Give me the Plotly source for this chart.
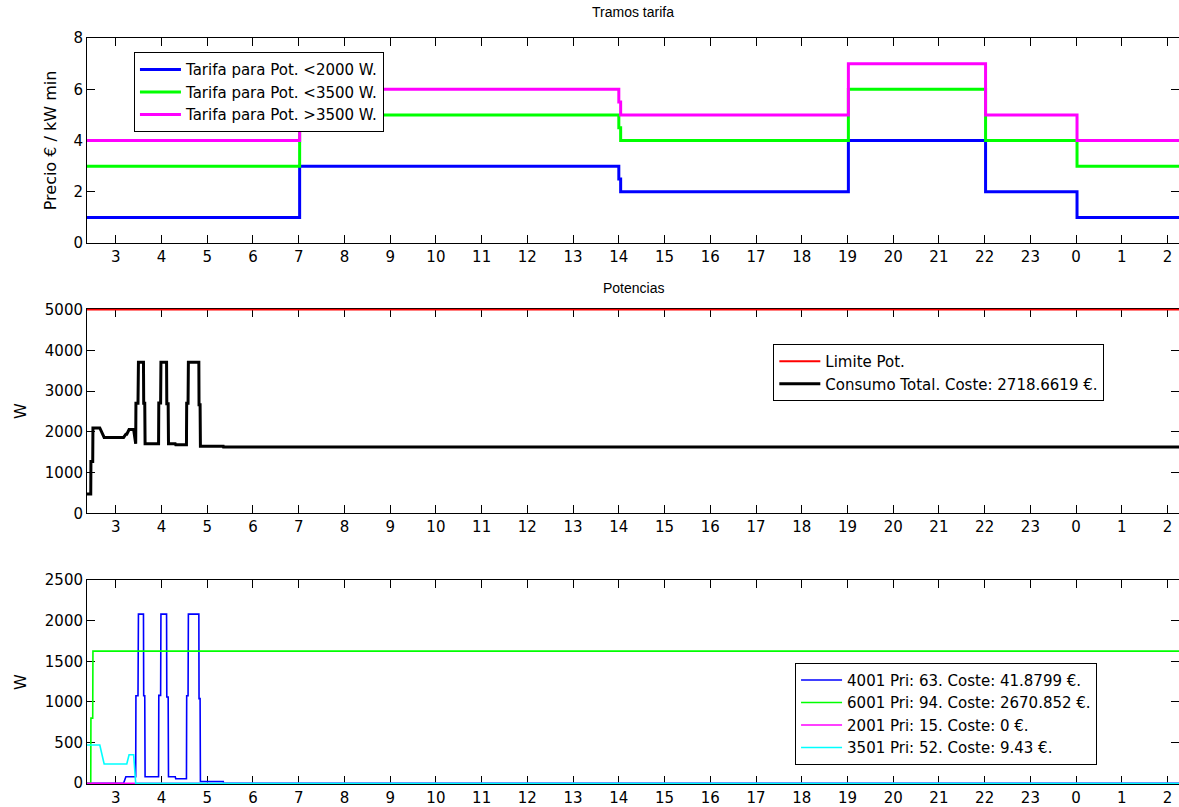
import plotly.graph_objects as go

# ---- Tariff bands (hours of the day; values above 24 belong to the next day) ----
horas_tramo = [2.37, 7.02, 7.02, 14.0, 14.0, 14.04, 14.04, 19.02, 19.02, 22.02, 22.02, 24.02, 24.02, 26.25]
tarifa_2000 = [1, 1, 3, 3, 2.5, 2.5, 2, 2, 4, 4, 2, 2, 1, 1]
tarifa_3500 = [3, 3, 5, 5, 4.5, 4.5, 4, 4, 6, 6, 4, 4, 3, 3]
tarifa_mas3500 = [4, 4, 6, 6, 5.5, 5.5, 5, 5, 7, 7, 5, 5, 4, 4]

# ---- Load profiles (W) on a common time grid ----
horas_carga = [2.37, 2.452, 2.456, 2.495, 2.50, 2.65, 2.745, 3.17, 3.22, 3.24,
               3.29, 3.39, 3.435, 3.44, 3.485, 3.495, 3.605, 3.61, 3.633, 3.64,
               3.935, 3.94, 3.98, 3.987, 4.11, 4.115, 4.145, 4.152, 4.30, 4.31,
               4.545, 4.55, 4.58, 4.587, 4.816, 4.82, 4.843, 4.85, 5.35, 5.355,
               26.25]
carga_4001 = [0, 0, 0, 0, 0, 0, 0, 0, 80, 80,
              80, 80, 80, 1075, 1075, 2080, 2080, 1075, 1075, 80,
              80, 1080, 1080, 2080, 2080, 1060, 1060, 80, 80, 55,
              55, 1075, 1075, 2080, 2080, 1040, 1040, 20, 20, 0,
              0]
carga_6001 = [0, 0, 800, 800] + [1625] * 37
carga_2001 = [0] * 41
carga_3501 = [470, 470, 470, 470, 470, 470, 236, 236, 236, 236,
              350, 350] + [0] * 29
consumo_total = [470, 470, 1270, 1270, 2095, 2095, 1861, 1861, 1941, 1941,
                 2055, 2055, 1705, 2700, 2700, 3705, 3705, 2700, 2700, 1705,
                 1705, 2705, 2705, 3705, 3705, 2685, 2685, 1705, 1705, 1680,
                 1680, 2700, 2700, 3705, 3705, 2665, 2665, 1645, 1645, 1625,
                 1625]
horas_limite = [2.37, 26.25]
limite_pot = [5000, 5000]

# ---- Axis ticks ----
tick_horas = list(range(3, 27))
tick_texto = [str(h % 24) for h in tick_horas]
rango_x = [2.37, 26.25]

FONT = "DejaVu Sans, Liberation Sans, sans-serif"
FONT_TITULO = "Liberation Sans, Arial, sans-serif"

fig = go.Figure()

# Panel 1: tariffs
fig.add_trace(go.Scatter(x=horas_tramo, y=tarifa_2000, mode="lines", name="Tarifa para Pot. <2000 W.",
                         line=dict(color="#0000FF", width=3), xaxis="x", yaxis="y", legend="legend"))
fig.add_trace(go.Scatter(x=horas_tramo, y=tarifa_3500, mode="lines", name="Tarifa para Pot. <3500 W.",
                         line=dict(color="#00FF00", width=3), xaxis="x", yaxis="y", legend="legend"))
fig.add_trace(go.Scatter(x=horas_tramo, y=tarifa_mas3500, mode="lines", name="Tarifa para Pot. >3500 W.",
                         line=dict(color="#FF00FF", width=3), xaxis="x", yaxis="y", legend="legend"))

# Panel 2: power limit and total consumption
fig.add_trace(go.Scatter(x=horas_limite, y=limite_pot, mode="lines", name="Limite Pot.",
                         line=dict(color="#FF0000", width=2), xaxis="x2", yaxis="y2", legend="legend2"))
fig.add_trace(go.Scatter(x=horas_carga, y=consumo_total, mode="lines",
                         name="Consumo Total. Coste: 2718.6619 €.",
                         line=dict(color="#000000", width=3), xaxis="x2", yaxis="y2", legend="legend2"))

# Panel 3: individual loads
cargas = [
    (carga_4001, "4001 Pri: 63. Coste: 41.8799 €.", "#0000FF"),
    (carga_6001, "6001 Pri: 94. Coste: 2670.852 €.", "#00FF00"),
    (carga_2001, "2001 Pri: 15. Coste: 0 €.", "#FF00FF"),
    (carga_3501, "3501 Pri: 52. Coste: 9.43 €.", "#00FFFF"),
]
for valores, nombre, color in cargas:
    fig.add_trace(go.Scatter(x=horas_carga, y=valores, mode="lines", name=nombre,
                             line=dict(color=color, width=1.6), xaxis="x3", yaxis="y3", legend="legend3"))

eje_comun = dict(showline=True, linecolor="#000000", linewidth=1, mirror="ticks",
                 ticks="inside", ticklen=8, tickcolor="#000000", tickwidth=1,
                 showgrid=False, zeroline=False, layer="below traces",
                 tickfont=dict(family=FONT, size=15, color="#000000"))

eje_x = dict(eje_comun, range=rango_x, tickmode="array", tickvals=tick_horas, ticktext=tick_texto)

leyenda = dict(bgcolor="#FFFFFF", bordercolor="#000000", borderwidth=1,
               font=dict(family=FONT, size=15, color="#000000"),
               xanchor="left", yanchor="top", tracegroupgap=0, itemwidth=41)

titulo_y = dict(family=FONT, size=16, color="#000000")

fig.update_layout(
    width=1179, height=807,
    margin=dict(l=87, r=0, t=38, b=23),
    paper_bgcolor="#FFFFFF", plot_bgcolor="#FFFFFF",
    font=dict(family=FONT, color="#000000"),
    xaxis=dict(eje_x, domain=[0, 1], anchor="y"),
    xaxis2=dict(eje_x, domain=[0, 1], anchor="y2"),
    xaxis3=dict(eje_x, domain=[0, 1], anchor="y3"),
    yaxis=dict(eje_comun, domain=[0.7252, 1.0], anchor="x", range=[0, 8], tickvals=[0, 2, 4, 6, 8],
               title=dict(text="Precio € / kW min", font=titulo_y, standoff=12)),
    yaxis2=dict(eje_comun, domain=[0.3629, 0.6371], anchor="x2", range=[0, 5020],
                tickvals=[0, 1000, 2000, 3000, 4000, 5000],
                title=dict(text="W", font=titulo_y, standoff=14)),
    yaxis3=dict(eje_comun, domain=[0, 0.2735], anchor="x3", range=[-10, 2500],
                tickvals=[0, 500, 1000, 1500, 2000, 2500],
                title=dict(text="W", font=titulo_y, standoff=14)),
    legend=dict(leyenda, x=0.043, y=0.981),
    legend2=dict(leyenda, x=0.6285, y=0.5898),
    legend3=dict(leyenda, x=0.6484, y=0.1626),
    annotations=[
        dict(text="Tramos tarifa", x=0.5, y=1.0, xref="paper", yref="paper", yshift=16,
             xanchor="center", yanchor="bottom", showarrow=False,
             font=dict(family=FONT_TITULO, size=14, color="#000000")),
        dict(text="Potencias", x=0.5, y=0.6371, xref="paper", yref="paper", yshift=11,
             xanchor="center", yanchor="bottom", showarrow=False,
             font=dict(family=FONT_TITULO, size=14, color="#000000")),
    ],
    showlegend=True,
)

fig.write_html("out.html", config={"displayModeBar": False})
